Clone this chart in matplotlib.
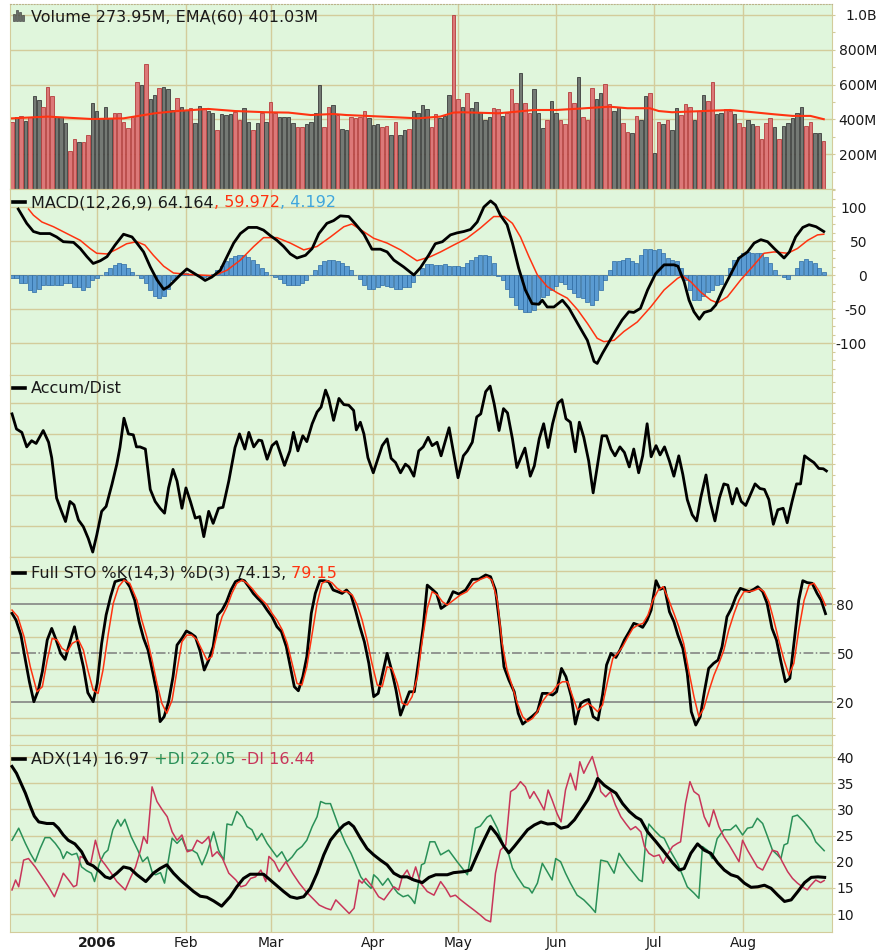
import matplotlib
matplotlib.use("Agg")
import matplotlib.pyplot as plt
from matplotlib.transforms import IdentityTransform
from matplotlib.patches import Rectangle
from matplotlib.lines import Line2D
from matplotlib.ticker import MultipleLocator

# =========================================================
# DATA  (trading-day index 0 = 5 Dec 2005 ... 182 = 25 Aug 2006)
# =========================================================

month_days = [19, 39, 58, 81, 100, 122, 144, 164]
month_labels = ["2006", "Feb", "Mar", "Apr", "May", "Jun", "Jul", "Aug"]

# daily volume, millions
volume_m = [
    387, 416, 421, 391, 416, 534, 511, 473, 588, 534,
    416, 416, 377, 218, 285, 270, 270, 310, 492, 448,
    406, 473, 406, 439, 439, 387, 349, 416, 613, 598,
    716, 517, 540, 579, 588, 573, 454, 525, 473, 454,
    464, 377, 477, 464, 448, 439, 339, 429, 425, 431,
    444, 397, 464, 387, 339, 377, 435, 387, 500, 435,
    416, 416, 412, 377, 358, 358, 374, 387, 435, 596,
    354, 473, 483, 425, 343, 339, 416, 406, 416, 448,
    406, 368, 372, 358, 364, 310, 387, 310, 339, 345,
    448, 435, 483, 458, 358, 429, 406, 420, 540, 1000,
    517, 473, 550, 464, 498, 444, 397, 412, 464, 458,
    420, 435, 573, 492, 665, 492, 435, 573, 439, 352,
    397, 508, 439, 397, 372, 559, 492, 646, 416, 397,
    579, 517, 550, 603, 489, 448, 473, 381, 330, 320,
    421, 397, 534, 550, 209, 387, 372, 397, 339, 467,
    425, 489, 473, 397, 448, 540, 508, 613, 429, 439,
    458, 450, 429, 381, 354, 397, 374, 364, 285, 381,
    406, 354, 285, 362, 381, 406, 439, 473, 362, 387,
    320, 320, 274,
]
# R = down day (red bar), G = up day (grey bar)
volume_dir = ("RGRGRGGRRR" "GGGRRGRRGG" "GGGRRRRRRG" "RGGRGGGRGG" "RGGRGGRGGG"
              "RRGGRGRGRR" "GGGGRRGGGG" "RRGRGGRRRR" "GGGRRGRGGR" "GGGGRRGGGR"
              "RGRGGGGGRR" "GRRRGRRGGG" "RGGRRRRGRR" "RGGRRGGRRG" "RGGRGRGRGG"
              "RRRGRGRRGG" "RRGRRGGRRR" "RGRGGGGGRR" "GGR")

ema60_pts = [(0, 406), (8, 416), (18, 402), (25, 406), (32, 435), (37, 448), (44, 460),
             (50, 448), (57, 441), (62, 439), (67, 425), (72, 431), (75, 425), (83, 416),
             (91, 406), (96, 416), (99, 439), (101, 441), (109, 435), (113, 444), (117, 454),
             (122, 454), (126, 460), (134, 473), (138, 464), (143, 464), (145, 448), (148, 441),
             (155, 448), (161, 454), (165, 444), (171, 429), (175, 420), (179, 420), (182, 401)]

macd_pts = [(1.4, 97), (3.3, 76), (4.8, 64), (6.3, 61), (8.5, 61), (10, 56), (11.5, 49), (13.8, 48),
            (15.3, 39), (16.8, 27), (18.2, 17), (19.8, 21), (21.3, 27), (23.1, 44), (25, 60),
            (26.9, 56), (28, 47), (29.5, 34), (31, 12), (32.5, -7), (34, -21), (35.1, -17),
            (36.2, -10), (37.7, 0), (39.2, 9), (40.7, 3), (42.2, -3), (43.3, -8), (44.8, -3),
            (46.7, 7), (48.2, 27), (49.7, 47), (51.2, 61), (53, 70), (54.9, 70), (56.4, 66),
            (57.9, 58), (59.4, 51), (60.9, 42), (62.4, 31), (63.9, 25), (65.8, 29), (67.3, 39),
            (68.8, 61), (70.6, 76), (72.1, 80), (73.6, 87), (75.5, 86), (77, 75), (78.9, 60),
            (80.7, 38), (82.6, 38), (84.1, 34), (85.6, 22), (87.8, 12), (90.1, 0), (91.6, 11),
            (93.4, 29), (94.9, 46), (96.5, 49), (98.3, 59), (99.8, 62), (101.3, 64), (102.8, 67),
            (104.3, 78), (105.8, 100), (107.3, 109), (108.4, 103), (109.5, 88), (111, 74),
            (112.2, 47), (113.6, 10), (115.1, -22), (116.6, -42), (118.1, -43), (118.9, -37),
            (120, -47), (121.5, -47), (123.4, -37), (124.9, -49), (126.8, -71), (129, -96),
            (130.5, -127), (131.2, -130), (132.4, -115), (133.9, -98), (135.4, -81), (136.8, -66),
            (138.3, -54), (139.4, -55), (140.9, -49), (142.5, -22), (144.3, 2), (146.2, 15),
            (148.4, 15), (149.3, 13), (150.7, -10), (151.8, -37), (152.9, -54), (154.1, -65),
            (155.2, -55), (156.7, -52), (157.8, -44), (159.3, -22), (161.2, 2), (163, 25),
            (164.9, 34), (166.4, 47), (167.9, 52), (169.4, 49), (170.9, 39), (172, 32), (173.1, 25),
            (174.3, 34), (175.7, 56), (177.3, 70), (178.7, 74), (180.3, 71), (182, 64)]

signal_pts = [(3.7, 97), (4.8, 88), (6.7, 78), (9.3, 71), (12.3, 61), (15.3, 51), (17.5, 39), (19, 32),
              (21.3, 31), (23.5, 38), (25.7, 46), (28, 49), (29.8, 44), (31.7, 29), (34, 13), (36.2, 3),
              (39.2, 1), (42.2, 0), (45.2, -1), (48.2, 7), (51.2, 22), (54.2, 42), (56.4, 55), (59.4, 55),
              (62.4, 47), (65.4, 37), (68.4, 42), (71.4, 56), (74.4, 71), (76.2, 75), (78.1, 67),
              (81.1, 54), (84.1, 47), (87.1, 37), (90.8, 21), (93.8, 27), (96.1, 34), (99, 44), (102, 54),
              (105, 69), (108, 86), (110.3, 86), (112.2, 76), (114, 56), (115.9, 27), (117.8, 0),
              (120, -17), (122.2, -26), (124.5, -34), (126.8, -51), (129, -71), (131.2, -93),
              (132.7, -98), (135, -96), (137.2, -83), (140.2, -69), (143.2, -47), (146.2, -22),
              (149.2, -5), (150.3, -1), (152.2, -10), (154.4, -25), (156.7, -37), (158.2, -41),
              (160.4, -32), (163.4, -7), (166.4, 15), (168.6, 32), (170.9, 34), (173.9, 32),
              (176.1, 39), (178.4, 51), (180.6, 59), (182, 60)]

macd_hist = [
    -5, -5, -12, -12, -22, -25, -20, -14, -14, -15,
    -15, -15, -12, -12, -17, -17, -22, -17, -7, -5,
    0, 5, 10, 15, 18, 16, 11, 5, 0, -5,
    -11, -22, -31, -34, -31, -20, -7, -1, 2, 3,
    2, 0, -1, -3, -1, 2, 7, 13, 20, 25,
    28, 30, 29, 27, 22, 16, 10, 5, 0, -3,
    -6, -11, -15, -15, -15, -12, -7, 0, 7, 15,
    20, 22, 22, 21, 18, 13, 7, 0, -6, -15,
    -20, -21, -17, -15, -16, -18, -20, -20, -17, -18,
    -10, 0, 10, 16, 16, 15, 15, 16, 13, 14,
    13, 12, 18, 22, 26, 29, 29, 28, 17, -1,
    -7, -20, -32, -44, -50, -54, -55, -51, -42, -32,
    -29, -22, -16, -10, -13, -20, -27, -32, -34, -39,
    -44, -37, -22, -7, 7, 20, 21, 22, 25, 20,
    18, 29, 39, 38, 37, 39, 32, 25, 22, 20,
    10, -7, -22, -36, -37, -31, -25, -22, -15, -13,
    0, 11, 22, 27, 32, 34, 33, 32, 32, 27,
    17, 7, 0, -3, -6, 0, 10, 20, 23, 21,
    17, 11, 4,
]

# Accumulation / Distribution (unlabelled scale, one unit = one gridline)
ad_pts = [(0, 4.64), (1, 4.15), (2.2, 4.04), (3.3, 3.57), (4.4, 3.77), (5.4, 3.68), (7, 4.10), (8.2, 3.72),
          (8.9, 3.22), (10, 1.91), (11.1, 1.48), (12, 1.15), (13, 1.80), (13.9, 1.69), (14.9, 1.20),
          (16, 0.98), (17.1, 0.60), (18.1, 0.16), (19, 0.71), (20.1, 1.48), (21.1, 1.64), (22.4, 2.35),
          (23.5, 3.01), (24.2, 3.55), (25.1, 4.50), (26.1, 3.99), (27.2, 3.96), (27.9, 3.57),
          (28.7, 3.57), (29.9, 3.50), (31, 2.19), (32.1, 1.80), (33.2, 1.58), (34.2, 1.42), (35.1, 2.24),
          (36.1, 2.84), (37, 2.46), (38.1, 1.58), (39, 2.24), (40, 1.80), (41.1, 1.26), (42.1, 1.31),
          (43, 0.66), (44.1, 1.48), (45.1, 1.09), (46.3, 1.58), (47.3, 1.61), (48.6, 2.46), (50, 3.55),
          (51, 3.99), (52.2, 3.50), (53.1, 4.04), (54.2, 3.57), (55.3, 3.79), (56, 3.77), (57.2, 3.17),
          (58.3, 3.61), (59.3, 3.74), (61.1, 2.97), (62.3, 3.44), (63.1, 4.04), (64.1, 3.44),
          (65.2, 3.93), (66.1, 3.74), (67.3, 4.32), (68.4, 4.70), (69.3, 4.86), (70.3, 5.41),
          (71, 5.14), (72.1, 4.43), (73.3, 5.14), (74.4, 4.94), (75.5, 4.92), (76.6, 4.75), (77.2, 4.12),
          (78.1, 4.37), (78.9, 3.99), (79.8, 3.22), (81, 2.73), (82.1, 3.22), (83, 3.61), (84.1, 3.83),
          (85, 3.20), (86, 3.06), (87.1, 2.73), (88.2, 3.01), (89, 2.92), (90.1, 2.62), (91.2, 3.44),
          (92.2, 3.57), (93.3, 3.88), (94.2, 3.61), (95.3, 3.72), (96.2, 3.28), (98, 4.19), (100, 2.57),
          (101.2, 3.28), (102.1, 3.44), (103.2, 3.72), (104.2, 4.54), (105.1, 4.64), (106.2, 5.36),
          (107.2, 5.54), (108.1, 4.97), (109.2, 4.10), (110.2, 4.81), (111.1, 4.67), (112.2, 3.83),
          (113.2, 2.90), (114.1, 3.22), (115, 3.53), (116.2, 2.62), (117.1, 2.95), (118.2, 3.83),
          (119.2, 4.32), (120.2, 3.55), (121.2, 4.32), (122.4, 4.99), (123.3, 5.10), (124.2, 4.48),
          (125.2, 4.37), (126.3, 3.41), (127.2, 4.37), (128.2, 3.88), (129.3, 3.11), (130.3, 2.08),
          (131.3, 3.01), (132.3, 3.93), (133.3, 3.93), (134.3, 3.50), (135.2, 3.28), (136.3, 3.57),
          (137.3, 3.39), (138.4, 2.92), (139.4, 3.50), (140.5, 2.73), (141.4, 3.28), (142.4, 4.32),
          (143.3, 3.25), (144.4, 3.61), (145.3, 3.31), (146.3, 3.57), (147.4, 3.11), (148.4, 2.62),
          (149.5, 3.28), (150.4, 2.68), (151.4, 1.86), (152.5, 1.37), (153.5, 1.17), (154.4, 1.91),
          (155.6, 2.66), (156.5, 1.80), (157.6, 1.17), (158.6, 1.91), (159.6, 2.37), (160.5, 2.33),
          (161.5, 1.72), (162.5, 2.22), (163.5, 1.80), (164.5, 1.67), (165.6, 2.04), (166.6, 2.37),
          (167.7, 2.22), (168.7, 2.19), (169.7, 1.86), (170.7, 1.06), (171.7, 1.53), (172.9, 1.58),
          (173.8, 1.11), (174.9, 1.80), (175.9, 2.37), (176.8, 2.37), (177.7, 3.28), (178.7, 3.17),
          (179.8, 3.06), (180.9, 2.87), (181.9, 2.86), (182.6, 2.79)]

stoK_pts = [(0, 74.3), (0.9, 70.2), (2, 61), (3, 45.7), (3.9, 32.4), (4.9, 20.2), (5.9, 27.3), (6.8, 38.6),
            (7.9, 58), (8.9, 65.1), (9.9, 58), (10.9, 49.8), (11.9, 46.1), (12.9, 55.9), (14, 66.1),
            (14.9, 54.9), (16, 41.6), (17, 25.7), (18.2, 20.2), (19.1, 31.4), (20.1, 55.9), (21.1, 73.3),
            (22.1, 84.5), (23.1, 93.7), (24.2, 94.7), (25.3, 95.1), (26.4, 90.6), (27.5, 82.4),
            (28.5, 69.2), (29.5, 59), (30.5, 51.8), (31.6, 37.6), (32.5, 25.3), (33.2, 8), (34.1, 11),
            (35.1, 20.2), (36.1, 35.5), (37, 54.9), (38.1, 59), (39.1, 63.5), (40.1, 62), (41.1, 60),
            (42.1, 51.8), (43.1, 39.6), (44.1, 45.7), (45.1, 53.9), (46.1, 73.3), (47.1, 76.3),
            (48.1, 81.4), (49.1, 88.6), (50.1, 93.7), (51.1, 95.1), (52.1, 94.3), (53.1, 90.6),
            (54.1, 86.5), (55.1, 83.5), (56.1, 80.8), (57.2, 76.3), (58.3, 72.2), (59.4, 66.1),
            (60.4, 63.1), (61.5, 53.9), (62.4, 41.6), (63.3, 29.4), (64.2, 26.9), (65.2, 35.5),
            (66.1, 47.8), (67.1, 74.3), (68, 86.5), (69, 94.3), (70, 94.3), (71, 93.7), (72, 88.6),
            (73, 87.6), (74, 86.5), (75, 88.6), (76, 85.5), (77, 76.3), (78, 66.1), (79, 56.9),
            (80, 43.7), (81.1, 23.3), (82.1, 25.3), (83.1, 37.6), (84.1, 49.8), (85.1, 39.6),
            (86.1, 27.3), (87.1, 12), (88.1, 19.2), (89.1, 26.3), (90.2, 26.3), (91.2, 45.7),
            (92.2, 66.1), (93.1, 91.6), (94.2, 89), (95.2, 86.5), (96.2, 77.3), (97.6, 80),
            (98.9, 87.6), (100.2, 86.1), (101.7, 88.6), (103.2, 95.1), (104.7, 95.3), (106.2, 97.8),
            (107.3, 96.7), (108.4, 88.6), (109.4, 66.1), (110.3, 41.6), (111.4, 33.5), (112.6, 26.3),
            (113.5, 13.1), (114.5, 6.5), (115.6, 9), (116.7, 11.4), (117.8, 14.1), (118.9, 25.3),
            (120, 25.3), (121.2, 24.3), (122.1, 26.3), (123.2, 40.6), (124.2, 35.5), (125.4, 23.3),
            (126.3, 6.5), (127.5, 19.2), (128.4, 20.8), (129.3, 21.6), (130.3, 11), (131.4, 9),
            (132.4, 24.3), (133.3, 42.7), (134.3, 49.8), (135.4, 47.3), (136.3, 51.8), (137.3, 58),
            (138.4, 63.1), (139.4, 68.2), (140.5, 67.1), (141.4, 65.7), (142.4, 70.2), (143.3, 76.3),
            (144.4, 94.3), (145.3, 89), (146.3, 90.2), (147.4, 75.3), (148.4, 69.2), (149.3, 61),
            (150.4, 52.9), (151.4, 37.6), (152.3, 14.1), (153.3, 5.9), (154.3, 11), (155.3, 27.3),
            (156.2, 40.6), (157.3, 43.7), (158.3, 45.7), (159.2, 53.9), (160.3, 72.2), (161.3, 77.3),
            (162.3, 84.5), (163.3, 89.6), (164.3, 88.6), (165.3, 87.6), (166.3, 89), (167.2, 90.6),
            (168.3, 87.6), (169.3, 80.4), (170.4, 65.1), (171.4, 58), (172.4, 44.7), (173.4, 32.4),
            (174.4, 34.5), (175.4, 58), (176.4, 82.4), (177.3, 94.3), (178.3, 93.1), (179.4, 92.7),
            (180.5, 86.5), (181.4, 82.4), (182.4, 74.1)]

stoD_pts = [(0, 76.3), (1.3, 72.2), (2.7, 60), (4.1, 41.6), (5.6, 26.3), (6.8, 29.4), (7.9, 45.7), (9, 59),
            (10.1, 58), (11.2, 52.9), (12.4, 50.8), (13.5, 55.9), (14.9, 58), (16, 51.8), (17, 39.6),
            (18.2, 27.3), (19.3, 25.3), (20.4, 39.6), (21.6, 62), (22.7, 80.4), (23.9, 90.6),
            (25.1, 94.7), (26.4, 92.7), (28, 82.4), (29.1, 70.2), (30.2, 60), (31.4, 45.7), (32.5, 31.4),
            (33.6, 19.2), (34.7, 13.1), (35.9, 21.2), (37, 39.6), (38.1, 56.9), (39.2, 61), (40.3, 61),
            (41.5, 58), (42.6, 51.8), (43.7, 45.7), (44.8, 47.8), (46, 62), (47.1, 72.2), (48.2, 78.4),
            (49.3, 86.5), (50.4, 92.7), (51.6, 94.7), (52.7, 92.7), (53.8, 89.6), (55, 85.5),
            (56.1, 82.4), (57.2, 79.4), (58.3, 74.3), (59.4, 70.2), (60.6, 64.1), (61.7, 55.9),
            (62.8, 43.7), (63.9, 31.4), (65, 30.4), (66.1, 41.6), (67.3, 62), (68.4, 80.4), (69.5, 92.7),
            (70.6, 94.3), (71.7, 93.1), (72.9, 89.6), (74, 87.6), (75.1, 87.6), (76.3, 85.5),
            (77.4, 79.4), (78.5, 70.2), (79.6, 58), (80.7, 43.7), (81.9, 30.4), (83, 29.4), (84.1, 41.6),
            (85.2, 40.6), (86.4, 31.4), (87.5, 19.2), (88.6, 18.2), (89.7, 23.3), (90.9, 35.5), (92, 58),
            (93.1, 77.3), (94.2, 87.6), (95.4, 85.5), (96.5, 81.4), (97.6, 79.4), (99, 82.4),
            (100.5, 85.5), (102, 87.6), (103.5, 92.7), (105, 95.1), (106.5, 96.7), (107.6, 94.7),
            (108.8, 82.4), (109.9, 55.9), (111, 39.6), (112.2, 29.4), (113.3, 19.2), (114.5, 11),
            (115.6, 8), (116.7, 10), (117.8, 14.1), (118.9, 20.2), (120, 24.3), (121.2, 26.3),
            (122.3, 30.4), (123.4, 32.4), (124.6, 32.4), (125.7, 23.3), (126.8, 15.1), (127.9, 17.1),
            (129.1, 19.2), (130.2, 17.1), (131.3, 14.1), (132.4, 18.2), (133.6, 33.5), (134.7, 46.7),
            (135.8, 49.8), (136.9, 53.9), (138.1, 60), (139.2, 65.1), (140.3, 67.1), (141.5, 68.2),
            (142.6, 73.3), (143.7, 82.4), (144.9, 88.6), (146, 90.6), (147.1, 83.5), (148.4, 74.3),
            (149.5, 66.1), (150.6, 55.9), (151.7, 39.6), (152.9, 23.3), (154, 11), (155.1, 16.1),
            (156.3, 27.3), (157.4, 36.5), (158.5, 43.7), (159.6, 51.8), (160.7, 64.1), (161.9, 74.3),
            (163, 82.4), (164.1, 87.6), (165.2, 87.6), (166.3, 88.2), (167.5, 89.6), (168.6, 87.6),
            (169.7, 81.4), (170.8, 70.2), (171.9, 58), (173.1, 45.7), (174.2, 36.5), (175.3, 43.7),
            (176.4, 64.1), (177.6, 82.4), (178.7, 91.6), (179.8, 92.7), (181, 87.6), (182.4, 79.2)]

adx_pts = [(0, 38.2), (1, 36.9), (2, 35), (3, 33.1), (4, 30.8), (5, 28.7), (6, 27.6), (7.8, 27.3), (9.3, 27.3),
           (10.4, 26.4), (11.5, 25.1), (12.6, 24.1), (14.1, 23.4), (15.6, 21.9), (16.9, 19.7), (18.2, 19.2),
           (19.7, 18.1), (20.9, 17.1), (22, 16.8), (23.5, 17.8), (25, 19), (26.5, 18.7), (28, 17.5),
           (30, 16.2), (31.7, 17.8), (33.2, 18.7), (34.7, 19.4), (36.2, 17.8), (37.7, 16.5), (39.2, 15.4),
           (40.7, 14.3), (42.2, 13.4), (43.7, 13.2), (45.2, 12.5), (47, 11.5), (48.9, 13.3), (50.4, 15.2),
           (51.9, 16.8), (53.4, 17.6), (54.9, 17.6), (56.4, 17.6), (57.9, 16.5), (59.4, 15.4), (60.9, 14.3),
           (62.4, 13.3), (63.9, 13), (65.4, 13.3), (66.9, 14.9), (68.4, 17.8), (69.9, 21.3), (71.4, 24.1),
           (72.9, 25.7), (74.4, 27), (75.5, 27.5), (76.6, 26.7), (78.1, 24.5), (79.6, 22.5), (81.1, 21.3),
           (82.6, 20.3), (84.1, 19.4), (85.6, 17.8), (87.1, 17.1), (88.6, 17.1), (90.1, 16.5), (92, 16),
           (93.5, 17), (95, 17.5), (96.5, 17.5), (97.6, 17.5), (99, 17.9), (101.3, 18.1), (102.8, 18.4),
           (104.3, 21.3), (105.8, 24.1), (107.3, 26.7), (108.8, 25.1), (110.3, 22.9), (111.4, 21.7),
           (112.6, 22.9), (114.1, 24.5), (115.6, 26.1), (117.1, 27), (118.6, 27.6), (120.1, 27.2),
           (121.6, 27.3), (123.1, 26.4), (124.6, 26.7), (126.1, 28), (127.6, 29.9), (129.1, 31.8),
           (130.6, 34.3), (131.3, 35.9), (132.8, 34.6), (134.3, 33.7), (135.4, 33.1), (136.9, 31.1),
           (138.4, 29.6), (139.9, 28.5), (141, 28), (142.5, 25.7), (144.4, 23.8), (146.2, 21.9),
           (148.1, 19.8), (149.6, 18.4), (150.7, 18.7), (152.2, 21.6), (153.7, 23.4), (155.2, 22.2),
           (156.7, 21.6), (158.2, 19.8), (159.7, 18.4), (161.2, 17.5), (162.7, 17.1), (164.2, 15.9),
           (165.7, 15.1), (167.2, 15.2), (168.7, 15.5), (170.2, 14.9), (171.7, 13.6), (173.2, 12.4),
           (174.7, 12.7), (176.2, 14.3), (177.7, 16), (179.2, 17), (180.7, 17.1), (182.2, 17)]

pdi_pts = [(0, 24.1), (1.5, 26.4), (3, 23.5), (4.1, 21.6), (5.2, 20), (6.3, 22.5), (7.4, 24.6), (8.5, 24.6),
           (9.7, 23.5), (10.8, 22.2), (11.5, 20.6), (12.3, 21.9), (13.4, 21.3), (14.5, 21.6), (15.6, 19),
           (16.7, 18.3), (17.8, 17.8), (18.5, 16.2), (19.6, 19.7), (20.7, 21.6), (21.5, 22.2), (22.6, 26.1),
           (23.7, 28), (24.4, 26.8), (25.3, 28.1), (26.7, 24.8), (28.2, 22.2), (29.3, 20), (30.4, 20.9),
           (31.5, 17.8), (32.2, 17.5), (33.3, 17.9), (34.2, 15.9), (35.2, 20.9), (35.9, 24.5), (37, 23.5),
           (38.1, 24.5), (39.2, 22.2), (40.4, 22.2), (41.5, 21.6), (42.6, 19.4), (43.7, 21.6), (45.2, 25.7),
           (46.3, 22.2), (47.5, 20.3), (48.2, 27.2), (49.3, 27), (50.4, 29.6), (51.6, 28.6), (52.7, 26.7),
           (53.8, 26.1), (54.9, 24.1), (56, 25.4), (57.2, 23.5), (58.3, 22.2), (59.4, 20.9), (60.5, 21.9),
           (61.7, 20), (62.8, 20.9), (63.9, 22.2), (65, 22.9), (66.1, 24.1), (67.3, 26.7), (68.4, 28.6),
           (69.2, 31.5), (70.3, 31.1), (71.4, 31.1), (72.6, 28.3), (73.7, 25.7), (74.8, 23.5), (76, 21.6),
           (77.1, 19.4), (78.2, 17.1), (79.3, 15.9), (80.5, 14.9), (81.1, 17.5), (82, 16.8), (83.1, 15.5),
           (84.3, 16.8), (85.4, 15.2), (86.5, 14), (87.7, 13.3), (88.8, 13.6), (89.5, 13), (90.3, 12),
           (91, 15.2), (91.8, 19.4), (92.5, 19.7), (93.7, 23.8), (94.8, 23.8), (96.1, 21.3), (97.9, 22.2),
           (99.8, 20), (102.1, 17.5), (103.9, 26.4), (105, 26.8), (106.5, 28.5), (107.3, 28.9),
           (108.8, 26.4), (110.3, 22.9), (111.4, 21.3), (112.2, 18.8), (113.3, 17.1), (114.8, 15.2),
           (115.9, 14.9), (116.6, 14), (117.8, 15.9), (118.9, 19.7), (120, 18.1), (121.1, 16.5),
           (121.9, 20.6), (123, 20), (124.1, 17.8), (125.2, 15.9), (126.7, 13.6), (128.2, 12.7),
           (129.7, 11.4), (130.8, 10.3), (132, 20.3), (133.5, 20), (135, 17.8), (136.1, 21.6),
           (137.6, 19.7), (139.1, 18.1), (140.6, 16.5), (141.3, 16.2), (142.1, 24.1), (142.8, 27.2),
           (143.9, 26.1), (145.4, 24.8), (146.2, 24.5), (147.7, 21.9), (149.2, 19.7), (150.3, 17.5),
           (151.4, 15.2), (152.9, 14), (154, 13), (154.8, 22.9), (155.9, 22.2), (157, 20.6), (158.1, 24.4),
           (159.6, 26.1), (161.1, 26.1), (162.3, 27), (163.8, 25.1), (164.9, 26.4), (166, 26.6),
           (167.1, 28.3), (168.3, 27.3), (169.4, 24.8), (170.5, 22.2), (171.6, 21.3), (172.4, 20.6),
           (173.1, 23.2), (173.9, 23.5), (175, 28.6), (176.1, 28.9), (177.6, 27.6), (179.1, 26),
           (180.2, 23.8), (182.1, 22.1)]

mdi_pts = [(0, 14.6), (0.8, 16.5), (1.5, 15.2), (2.6, 20.3), (3.7, 20.6), (5.2, 19), (6.7, 17.1), (8.2, 15.2),
           (9.5, 13.3), (10.4, 15.2), (11.5, 17.8), (12.7, 16.5), (13.8, 15.2), (14.5, 15.5), (15.3, 21),
           (16.4, 20.6), (17.6, 19.4), (18.7, 24.1), (19.8, 20.6), (20.9, 19.4), (22, 18.1), (23.5, 16.2),
           (25.4, 14.6), (26.5, 16.8), (27.7, 19), (28.8, 22.2), (29.5, 24.8), (30.3, 23.5), (31.4, 34.3),
           (32.5, 31.5), (33.7, 29.9), (34.8, 28.6), (35.9, 25.7), (37, 24.1), (38.1, 25.1), (39.3, 21.9),
           (40.4, 22.2), (41.5, 24.1), (42.6, 23.5), (43.4, 24.1), (44.1, 24.8), (44.9, 21), (46, 21.9),
           (47.2, 20.6), (48.6, 17.8), (50.2, 16.5), (51.3, 15.2), (52.4, 15.5), (53.5, 16.8), (54.6, 17.1),
           (55.8, 18.4), (56.9, 16.2), (57.6, 21), (58.8, 20), (59.9, 18.1), (61.4, 20), (62.9, 17.8),
           (64.4, 15.9), (65.9, 14.3), (67.4, 13), (68.9, 11.7), (70.4, 11.1), (71.5, 10.8), (72.6, 12.7),
           (74.1, 11.4), (75.6, 10.1), (76.7, 11.1), (77.8, 16.5), (78.5, 15.9), (79.3, 16.8), (80.8, 15.2),
           (82.2, 13.3), (83.4, 12.7), (84.5, 14), (85.6, 15.2), (86.7, 14.6), (87.5, 17.1), (88.6, 18.4),
           (89.6, 16.5), (90.5, 19), (91.6, 15.9), (93.1, 14.3), (94.6, 13.6), (96.1, 16.2), (97.2, 14.9),
           (98.3, 13.3), (99.4, 13.6), (100.6, 12.7), (102.1, 11.7), (103.5, 10.8), (105, 9.8), (106.2, 8.9),
           (107.3, 8.5), (108.4, 17.8), (109.5, 22.2), (110.7, 23.2), (111.8, 33.4), (112.9, 34),
           (114, 35.3), (115.1, 34.3), (116.1, 32.1), (117, 33.4), (118.1, 31.8), (119.3, 29.9),
           (120.2, 33.7), (121.1, 31.8), (122.2, 29.2), (123.1, 27.6), (124.1, 33.7), (125.2, 36.9),
           (126.4, 33.7), (127.3, 39.1), (128.2, 36.9), (129.1, 38.5), (130.1, 40.1), (131.2, 36.9),
           (132, 33.4), (133.1, 32.4), (134.2, 33.4), (135.3, 30.8), (136.5, 28.6), (137.6, 27.3),
           (138.7, 26.1), (139.8, 26.7), (141, 25.7), (141.8, 22.9), (142.8, 21.6), (143.9, 21),
           (145.1, 21.3), (146, 19.7), (146.9, 21.3), (148.1, 22.9), (149.2, 23.5), (149.9, 23.8),
           (151, 31.1), (152, 35.3), (152.9, 33.4), (154, 32.7), (155.2, 28.6), (156.3, 26.7), (157.3, 29.9),
           (158.5, 26.7), (159.6, 24.8), (160.8, 23.2), (161.9, 21.6), (163, 20), (163.8, 24.1),
           (164.9, 22.2), (166, 20.6), (167.1, 19), (168.3, 18.4), (169.4, 20.3), (170.5, 22.2),
           (171.6, 21.9), (172.7, 20), (173.9, 18.1), (175, 16.8), (176.1, 15.9), (177.2, 15.2),
           (178.3, 14.6), (179.1, 15.5), (180.2, 16.5), (181.3, 16), (182.1, 16.4)]

# =========================================================
# STYLE / LAYOUT
# =========================================================

W, H = 883, 951
XMIN, XMAX = -0.45, 183.85
BG = "#e0f6dc"
GRID = "#d3cc9b"
TXT = "#1a1a1a"
RED_LINE = "#ff3311"

fig = plt.figure(figsize=(W / 100, H / 100), dpi=100)
renderer = fig.canvas.get_renderer()


def unzip(pts):
    return [p[0] for p in pts], [p[1] for p in pts]


def panel(top, bottom, ylim, yticks, ylabels, minor, ha="left", pad=1.0, hgrid=True):
    ax = fig.add_axes([10 / W, 1 - bottom / H, 822 / W, (bottom - top) / H])
    ax.set_facecolor(BG)
    ax.set_xlim(XMIN, XMAX)
    ax.set_ylim(*ylim)
    ax.set_xticks(month_days)
    ax.tick_params(axis="x", length=0, labelbottom=False)
    ax.yaxis.tick_right()
    ax.set_yticks(yticks)
    ax.set_yticklabels(ylabels)
    ax.yaxis.set_minor_locator(MultipleLocator(minor))
    ax.tick_params(axis="y", which="both", direction="out", color=GRID,
                   length=2.2, width=0.8, labelsize=10, labelcolor=TXT, pad=pad)
    for lab in ax.get_yticklabels():
        lab.set_ha(ha)
    ax.grid(True, axis="x", color=GRID, lw=1)
    if hgrid:
        ax.grid(True, axis="y", which="major", color=GRID, lw=1)
    ax.set_axisbelow(True)
    for sp in ax.spines.values():
        sp.set_color(GRID)
    return ax


def legend_row(y_img, parts, icon="dash"):
    y = H - y_img
    if icon == "dash":
        fig.add_artist(Line2D([13, 25], [y + 5, y + 5], color="black", lw=2.6,
                              transform=IdentityTransform()))
    else:
        for i, hgt in enumerate([7, 11, 9, 6]):
            fig.add_artist(Rectangle((13 + i * 3, y), 2.4, hgt, fc="#6a6e6a", ec="#333333",
                                     lw=0.4, transform=IdentityTransform()))
    x = 31
    for s, c in parts:
        t = fig.text(x, y, s, color=c, fontsize=11.5, transform=IdentityTransform(),
                     ha="left", va="baseline")
        x = t.get_window_extent(renderer).x1


# =========================================================
# VOLUME
# =========================================================

ax_vol = panel(4, 189, (0, 1063), [200, 400, 600, 800, 1000],
               ["200M", "400M", "600M", "800M", "1.0B"], 100, ha="right", pad=30.2)
days = list(range(len(volume_m)))
fills = ["#dc7878" if d == "R" else "#747974" for d in volume_dir]
edges = ["#b53d3d" if d == "R" else "#3c3c3c" for d in volume_dir]
ax_vol.bar(days, volume_m, width=0.78, color=fills, edgecolor=edges, lw=0.6, zorder=2)
ex, ey = unzip(ema60_pts)
ax_vol.plot(ex, ey, color=RED_LINE, lw=1.5, zorder=3)
ax_vol.spines["top"].set_linestyle(":")
ax_vol.spines["top"].set_color("#bbb38a")
# month labels above the chart, mostly beyond the top edge as in the original
ax_vol.tick_params(axis="x", labeltop=True, pad=4.5, labelsize=10, labelcolor=TXT)
ax_vol.set_xticklabels(month_labels)
legend_row(21, [("Volume 273.95M, EMA(60) 401.03M", TXT)], icon="bars")

# =========================================================
# MACD
# =========================================================

ax_macd = panel(189, 375, (-147, 126.5), [-100, -50, 0, 50, 100],
                ["-100", "-50", "0", "50", "100"], 12.5, ha="right", pad=23.0)
ax_macd.bar(days, macd_hist, width=0.92, color="#5a9bd2", edgecolor="#2c6aa3", lw=0.5, zorder=2)
sx, sy = unzip(signal_pts)
ax_macd.plot(sx, sy, color=RED_LINE, lw=1.1, zorder=3)
mx, my = unzip(macd_pts)
ax_macd.plot(mx, my, color="black", lw=2.0, zorder=4)
legend_row(207, [("MACD(12,26,9) 64.164", TXT), (", 59.972", RED_LINE), (", 4.192", "#3fa6dd")])

# =========================================================
# ACCUM / DIST
# =========================================================

ax_ad = panel(375, 557, (0, 5.9), [0, 1, 2, 3, 4, 5], [""] * 6, 1 / 3)
ax_, ay_ = unzip(ad_pts)
ax_ad.plot(ax_, ay_, color="black", lw=2.0, zorder=3)
legend_row(393, [("Accum/Dist", TXT)])

# =========================================================
# FULL STOCHASTICS
# =========================================================

ax_sto = panel(557, 745, (-6.3, 108.8), [20, 50, 80], ["20", "50", "80"], 10, hgrid=False)
ax_sto.grid(True, axis="y", which="minor", color=GRID, lw=1)
ax_sto.axhline(20, color="#7c7c7c", lw=1.1, zorder=1)
ax_sto.axhline(80, color="#7c7c7c", lw=1.1, zorder=1)
ax_sto.axhline(50, color="#7c7c7c", lw=1.1, ls="-.", zorder=1)
kx, ky = unzip(stoK_pts)
ax_sto.plot(kx, ky, color="black", lw=2.0, zorder=3)
dx, dy = unzip(stoD_pts)
ax_sto.plot(dx, dy, color=RED_LINE, lw=1.1, zorder=4)
legend_row(578, [("Full STO %K(14,3) %D(3) 74.13,", TXT), (" 79.15", RED_LINE)])

# =========================================================
# ADX
# =========================================================

ax_adx = panel(745, 932, (6.56, 42.3), [10, 15, 20, 25, 30, 35, 40],
               ["10", "15", "20", "25", "30", "35", "40"], 5)
px, py = unzip(pdi_pts)
ax_adx.plot(px, py, color="#2a9058", lw=1.1, zorder=3)
nx, ny = unzip(mdi_pts)
ax_adx.plot(nx, ny, color="#c8365a", lw=1.1, zorder=3)
dxx, dyy = unzip(adx_pts)
ax_adx.plot(dxx, dyy, color="black", lw=2.2, zorder=4)
ax_adx.tick_params(axis="x", labelbottom=True, pad=3, labelsize=10, labelcolor=TXT)
ax_adx.set_xticklabels(month_labels)
ax_adx.get_xticklabels()[0].set_fontweight("bold")
legend_row(764, [("ADX(14) 16.97", TXT), (" +DI 22.05", "#2a9058"), (" -DI 16.44", "#c8365a")])

fig.savefig("out.png", dpi=100)
